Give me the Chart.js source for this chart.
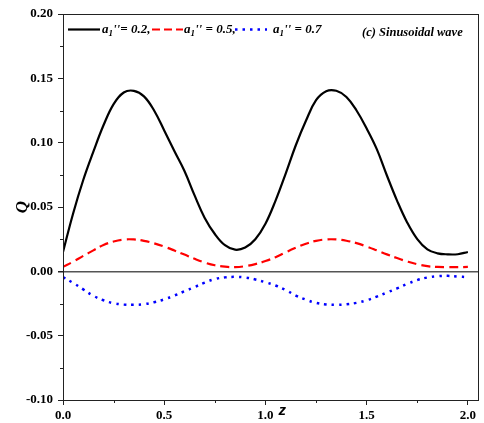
<!DOCTYPE html>
<html>
<head>
<meta charset="utf-8">
<script src="https://cdn.jsdelivr.net/npm/chart.js@4"></script>
<style>
  html, body { margin: 0; padding: 0; background: #fff; }
  #wrap { width: 484px; height: 423px; }
</style>
</head>
<body>
<div id="wrap"><canvas id="chart" width="484" height="423"></canvas></div>
<script>
// z positions (x axis)
const zValues = [0.00, 0.05, 0.10, 0.15, 0.20, 0.25, 0.30, 0.35, 0.40, 0.45,
                 0.50, 0.55, 0.60, 0.65, 0.70, 0.75, 0.80, 0.85, 0.90, 0.95,
                 1.00, 1.05, 1.10, 1.15, 1.20, 1.25, 1.30, 1.35, 1.40, 1.45,
                 1.50, 1.55, 1.60, 1.65, 1.70, 1.75, 1.80, 1.85, 1.90, 1.95, 2.00];

// a1'' = 0.2 (black solid)
const q02 = [0.015, 0.045, 0.071, 0.093, 0.1135, 0.130, 0.139, 0.1403, 0.136, 0.125,
             0.1095, 0.0935, 0.078, 0.059, 0.0415, 0.029, 0.0203, 0.0168, 0.0185, 0.025,
             0.037, 0.055, 0.076, 0.098, 0.117, 0.133, 0.140, 0.1403, 0.1355, 0.125,
             0.111, 0.095, 0.0745, 0.055, 0.038, 0.025, 0.017, 0.014, 0.0132, 0.0133, 0.015];

// a1'' = 0.5 (red dashed)
const q05 = [0.0035, 0.0075, 0.012, 0.0163, 0.0205, 0.0232, 0.0247, 0.0248, 0.0237, 0.0218,
             0.0192, 0.0162, 0.0130, 0.0097, 0.0068, 0.0047, 0.0036, 0.0033, 0.0040, 0.0056,
             0.0080, 0.0110, 0.0148, 0.0183, 0.0215, 0.0237, 0.0248, 0.0248, 0.0238, 0.0219,
             0.0193, 0.0163, 0.0132, 0.0103, 0.0077, 0.0055, 0.0040, 0.0034, 0.0033, 0.0033, 0.0034];

// a1'' = 0.7 (blue dotted)
const q07 = [-0.0045, -0.009, -0.014, -0.019, -0.0225, -0.0248, -0.0258, -0.026, -0.0255, -0.024,
             -0.0218, -0.0188, -0.0155, -0.0122, -0.0088, -0.006, -0.0047, -0.0043, -0.0048, -0.0063,
             -0.0085, -0.011, -0.0145, -0.0188, -0.022, -0.0245, -0.0257, -0.026, -0.0256, -0.0245,
             -0.0225, -0.0197, -0.0165, -0.0133, -0.0098, -0.0068, -0.0048, -0.0038, -0.0035, -0.0040, -0.0045];

const legendValues = ['0.2,', '0.5,', '0.7'];
const panelTitle = '(c) Sinusoidal wave';

const tickFont = { family: '"Liberation Serif", "Times New Roman", serif', size: 13, weight: 'bold' };
const labelFamily = '"Liberation Serif", "Times New Roman", serif';

function toPoints(ys) {
    return zValues.map((z, i) => ({ x: z, y: ys[i] }));
}

function isMultiple(v, step) {
    const r = v / step;
    return Math.abs(r - Math.round(r)) < 1e-6;
}

// frame, minor ticks, legend and the x title sitting beside "1.0"
const decorPlugin = {
    id: 'decor',
    afterDraw(chart) {
        const { ctx, chartArea: a, scales } = chart;
        const xs = scales.x, ys = scales.y;
        ctx.save();

        // box round the plot
        ctx.strokeStyle = '#222';
        ctx.lineWidth = 1;
        ctx.strokeRect(Math.round(a.left) + 0.5, Math.round(a.top) + 0.5,
                       Math.round(a.right - a.left), Math.round(a.bottom - a.top));

        // minor ticks (shorter than major ones)
        ctx.beginPath();
        xs.ticks.forEach(t => {
            if (!isMultiple(t.value, 0.5)) {
                const px = Math.round(xs.getPixelForValue(t.value)) + 0.5;
                ctx.moveTo(px, a.bottom);
                ctx.lineTo(px, a.bottom + 3);
            }
        });
        ys.ticks.forEach(t => {
            if (!isMultiple(t.value, 0.05)) {
                const py = Math.round(ys.getPixelForValue(t.value)) + 0.5;
                ctx.moveTo(a.left, py);
                ctx.lineTo(a.left - 3, py);
            }
        });
        ctx.stroke();

        // legend line samples
        const ly = 29.5;
        const samples = [
            { x0: 68, x1: 100, color: '#000', dash: [], width: 2.2 },
            { x0: 152, x1: 183, color: '#ff0000', dash: [8, 4], width: 2.2 },
            { x0: 235, x1: 267, color: '#0000ff', dash: [2.5, 5], width: 2.5 }
        ];
        samples.forEach(s => {
            ctx.beginPath();
            ctx.setLineDash(s.dash);
            ctx.strokeStyle = s.color;
            ctx.lineWidth = s.width;
            ctx.moveTo(s.x0, ly);
            ctx.lineTo(s.x1, ly);
            ctx.stroke();
        });
        ctx.setLineDash([]);

        // legend labels: a with subscript 1, double prime, value
        ctx.fillStyle = '#000';
        ctx.textBaseline = 'alphabetic';
        ctx.textAlign = 'left';
        const labelX = [102, 184, 273];
        const eqs = ["''= ", "'' = ", "'' = "];
        labelX.forEach((x, i) => {
            let cx = x;
            ctx.font = 'italic bold 13px ' + labelFamily;
            ctx.fillText('a', cx, 33);
            cx += ctx.measureText('a').width;
            ctx.font = 'italic bold 9px ' + labelFamily;
            ctx.fillText('1', cx, 36);
            cx += ctx.measureText('1').width;
            ctx.font = 'italic bold 13px ' + labelFamily;
            ctx.fillText(eqs[i] + legendValues[i], cx, 33);
        });

        ctx.font = 'italic bold 12.5px ' + labelFamily;
        ctx.fillText(panelTitle, 362, 36);

        // x title "z" right of the 1.0 label
        ctx.font = 'italic bold 15px "Liberation Sans", Arial, sans-serif';
        ctx.fillText('z', xs.getPixelForValue(1.0) + 13, 415);

        ctx.restore();
    }
};

const ctx = document.getElementById('chart').getContext('2d');
new Chart(ctx, {
    type: 'line',
    data: {
        datasets: [
            {
                label: "a1''=0.2",
                data: toPoints(q02),
                borderColor: '#000000',
                borderWidth: 2.2,
                pointRadius: 0,
                tension: 0.4
            },
            {
                label: "a1''=0.5",
                data: toPoints(q05),
                borderColor: '#ff0000',
                borderWidth: 2.2,
                borderDash: [9, 5],
                pointRadius: 0,
                tension: 0.4
            },
            {
                label: "a1''=0.7",
                data: toPoints(q07),
                borderColor: '#0000ff',
                borderWidth: 2.5,
                borderDash: [2.5, 5],
                pointRadius: 0,
                tension: 0.4
            }
        ]
    },
    options: {
        responsive: false,
        animation: false,
        layout: { padding: { top: 14, right: 6, left: 0, bottom: 0 } },
        plugins: {
            legend: { display: false },
            tooltip: { enabled: false }
        },
        scales: {
            x: {
                type: 'linear',
                min: 0,
                max: 2.05,
                afterFit(scale) { scale.height = 23; },
                border: { display: true, color: '#222', width: 1 },
                grid: {
                    drawOnChartArea: false,
                    tickLength: 5,
                    tickColor: c => isMultiple(c.tick.value, 0.5) ? '#222' : 'rgba(0,0,0,0)'
                },
                ticks: {
                    stepSize: 0.25,
                    includeBounds: false,
                    autoSkip: false,
                    maxRotation: 0,
                    padding: 3,
                    color: '#000',
                    font: tickFont,
                    callback: v => isMultiple(v, 0.5) ? v.toFixed(1) : ''
                }
            },
            y: {
                min: -0.1,
                max: 0.2,
                afterFit(scale) { scale.width = 63; },
                border: { display: true, color: '#222', width: 1 },
                grid: {
                    drawOnChartArea: true,
                    tickLength: 5,
                    color: c => Math.abs(c.tick.value) < 1e-9 ? '#555' : 'rgba(0,0,0,0)',
                    lineWidth: c => Math.abs(c.tick.value) < 1e-9 ? 1.5 : 1,
                    tickColor: c => isMultiple(c.tick.value, 0.05) ? '#222' : 'rgba(0,0,0,0)'
                },
                ticks: {
                    stepSize: 0.025,
                    autoSkip: false,
                    padding: 5,
                    color: '#000',
                    font: tickFont,
                    callback: v => isMultiple(v, 0.05) ? v.toFixed(2) : ''
                },
                title: {
                    display: true,
                    text: 'Q',
                    color: '#000',
                    font: { family: labelFamily, size: 17, weight: 'bold', style: 'italic' },
                    padding: { top: 12, bottom: 0 }
                }
            }
        }
    },
    plugins: [decorPlugin]
});
</script>
</body>
</html>
